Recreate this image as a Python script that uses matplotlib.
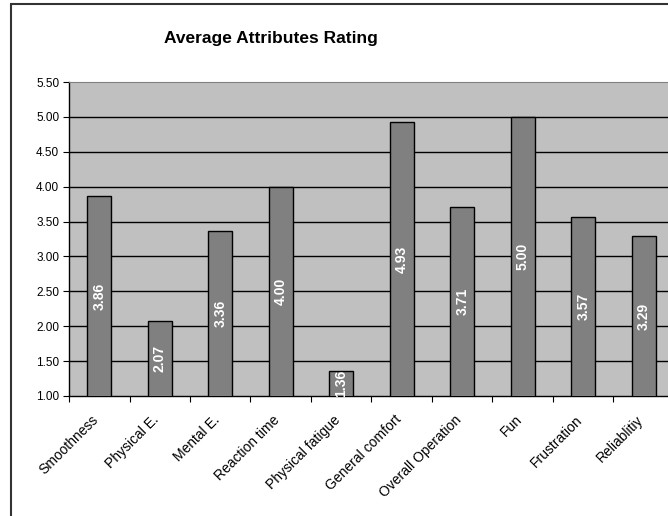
import matplotlib
matplotlib.use("Agg")
import matplotlib.pyplot as plt
from matplotlib.patches import Rectangle
from matplotlib.transforms import ScaledTranslation
import numpy as np

plt.rcParams['font.family'] = ['Liberation Sans', 'DejaVu Sans']

categories = ["Smoothness", "Physical E.", "Mental E.", "Reaction time", "Physical fatigue",
              "General comfort", "Overall Operation", "Fun", "Frustration", "Reliablitiy"]
values = [3.86, 2.07, 3.36, 4.00, 1.36, 4.93, 3.71, 5.00, 3.57, 3.29]
yticks = [1.00, 1.50, 2.00, 2.50, 3.00, 3.50, 4.00, 4.50, 5.00, 5.50]

W, H = 668, 516
fig = plt.figure(figsize=(W/100, H/100), dpi=100)
left, right, top, bottom = 69, 674, 82, 396
ax = fig.add_axes([left/W, 1 - bottom/H, (right-left)/W, (bottom-top)/H])
ax.set_facecolor('#C0C0C0')

x = np.arange(len(categories))
bars = ax.bar(x, values, width=0.4, bottom=0, color='#808080', edgecolor='black', linewidth=1, zorder=3)
ax.set_ylim(1.0, 5.5)
ax.set_xlim(-0.5, len(categories) - 0.5)
ax.set_yticks(yticks)
ax.set_yticklabels([f"{v:.2f}" for v in yticks], fontsize=8.5)
for v in yticks[1:-1]:
    ax.axhline(v, color='black', linewidth=1, zorder=1)

ax.set_xticks(np.arange(len(categories) + 1) - 0.5, minor=False)
ax.set_xticklabels([])
ax.set_xticks(x, minor=True)
ax.set_xticklabels(categories, minor=True, rotation=45, ha='right', rotation_mode='anchor', fontsize=10)
ax.tick_params(axis='x', which='minor', length=0, pad=12)
ax.tick_params(axis='x', which='major', length=4, direction='out', color='black')
ax.tick_params(axis='y', length=4, direction='out', pad=3)
off = ScaledTranslation(-8/100, 0, fig.dpi_scale_trans)
for lbl in ax.get_xticklabels(minor=True):
    lbl.set_transform(lbl.get_transform() + off)

for s in ['top', 'right']:
    ax.spines[s].set_color('#808080')
for s in ['left', 'bottom']:
    ax.spines[s].set_color('black')
    ax.spines[s].set_linewidth(1)

for xi, v in zip(x, values):
    ax.text(xi, (1.0 + v) / 2, f"{v:.2f}", rotation=90, ha='center', va='center',
            color='white', fontsize=10, fontweight='bold', zorder=4)

fig.text(271/W, 1 - 38/H, "Average Attributes Rating", ha='center', va='center',
         fontsize=12.5, fontweight='bold')

fig.patches.append(Rectangle((11/W, -0.1), 1.2, 1.1 - 4/H, transform=fig.transFigure,
                             fill=False, edgecolor='#333333', linewidth=1.5))

fig.savefig("out.png", dpi=100)
